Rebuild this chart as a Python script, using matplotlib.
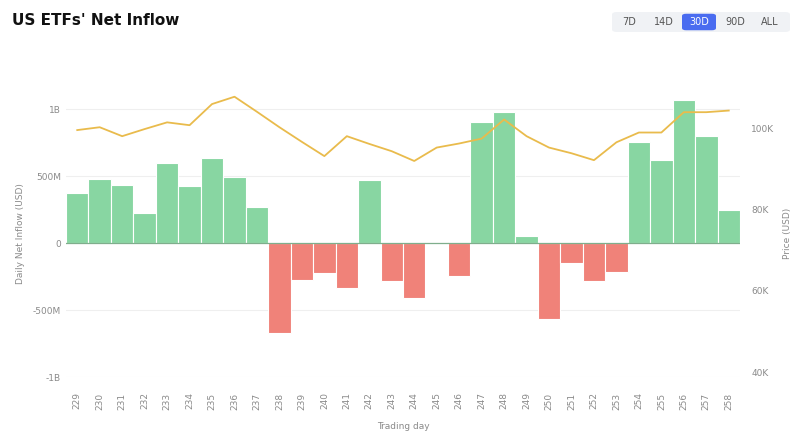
import matplotlib
matplotlib.use("Agg")
import matplotlib.pyplot as plt
from matplotlib.patches import FancyBboxPatch

# trading days and daily net inflow (USD)
days = list(range(229, 259))
inflow = [375e6, 478e6, 435e6, 224e6, 597e6, 428e6, 634e6, 495e6, 273e6,
          -672e6, -274e6, -224e6, -336e6, 472e6, -286e6, -410e6, 5e6, -242e6,
          905e6, 978e6, 55e6, -567e6, -149e6, -286e6, -212e6,
          754e6, 622e6, 1070e6, 801e6, 246e6]
# BTC price (USD)
price = [99.5e3, 100.2e3, 98.0e3, 99.75e3, 101.4e3, 100.7e3, 105.9e3, 107.7e3,
         104.0e3, 100.2e3, 96.6e3, 93.1e3, 98.0e3, 96.1e3, 94.3e3, 91.9e3,
         95.2e3, 96.2e3, 97.4e3, 102.1e3, 98.0e3, 95.2e3, 93.8e3, 92.1e3,
         96.5e3, 98.9e3, 98.9e3, 103.9e3, 103.9e3, 104.3e3]
left_ticks = [-1e9, -5e8, 0, 5e8, 1e9]
left_labels = ['-1B', '-500M', '0', '500M', '1B']
right_ticks = [40e3, 60e3, 80e3, 100e3]
right_labels = ['40K', '60K', '80K', '100K']
ranges = ['7D', '14D', '30D', '90D', 'ALL']

GREEN = '#88d6a2'
RED = '#f08279'
LINE = '#e9bb4c'
GREY = '#8a8a8a'

fig = plt.figure(figsize=(8, 4.37), dpi=100)
ax = fig.add_axes([0.0825, 0.137, 0.8425, 0.657])

x = list(range(len(days)))
colors = [GREEN if v >= 0 else RED for v in inflow]
ax.bar(x, inflow, width=1.0, color=colors, edgecolor='white', linewidth=0.8, zorder=2)
ax.axhline(0, color='#7fae8c', linewidth=0.9, zorder=3)

ax.set_xlim(-0.5, len(days) - 0.5)
ax.set_ylim(-1e9, 1.142e9)
ax.set_yticks(left_ticks)
ax.set_yticklabels(left_labels)
for t in left_ticks:
    if t != 0:
        ax.axhline(t, color='#efefef', linewidth=0.8, zorder=0)
ax.set_xticks(x)
ax.set_xticklabels([str(d) for d in days], rotation=90)
ax.tick_params(axis='both', length=0, labelsize=6.5, colors=GREY)
ax.tick_params(axis='x', pad=11)
for s in ax.spines.values():
    s.set_visible(False)
ax.set_ylabel('Daily Net Inflow (USD)', fontsize=6.5, color=GREY, labelpad=6)
ax.set_xlabel('Trading day', fontsize=6.5, color=GREY, labelpad=9)

ax2 = ax.twinx()
ax2.plot(x, price, color=LINE, linewidth=1.3, zorder=4)
ax2.set_ylim(38.75e3, 109.35e3)
ax2.set_yticks(right_ticks)
ax2.set_yticklabels(right_labels)
ax2.tick_params(axis='y', length=0, labelsize=6.5, colors=GREY, pad=8)
for s in ax2.spines.values():
    s.set_visible(False)
ax2.set_ylabel('Price (USD)', fontsize=6.5, color=GREY, labelpad=6)

fig.text(0.015, 0.953, "US ETFs' Net Inflow", fontsize=11, fontweight='bold',
         va='center', ha='left', color='#111111')

# range selector
bx0, bw, by, bh = 612 / 800, 178 / 800, 1 - 32 / 437, 20 / 437
fig.patches.append(FancyBboxPatch((bx0, by), bw, bh, boxstyle='round,pad=0,rounding_size=0.006',
                                  transform=fig.transFigure, facecolor='#f0f2f5',
                                  edgecolor='none'))
centers = [629, 664, 699, 735, 770]
for lab, cx in zip(ranges, centers):
    if lab == '30D':
        fig.patches.append(FancyBboxPatch(((cx - 17) / 800, by + 0.004), 34 / 800, bh - 0.008,
                                          boxstyle='round,pad=0,rounding_size=0.005',
                                          transform=fig.transFigure, facecolor='#4a6cf0',
                                          edgecolor='none'))
        c = 'white'
    else:
        c = '#555555'
    fig.text(cx / 800, by + bh / 2, lab, fontsize=7, color=c, ha='center', va='center')

fig.savefig('out.png', dpi=100, facecolor='white')
